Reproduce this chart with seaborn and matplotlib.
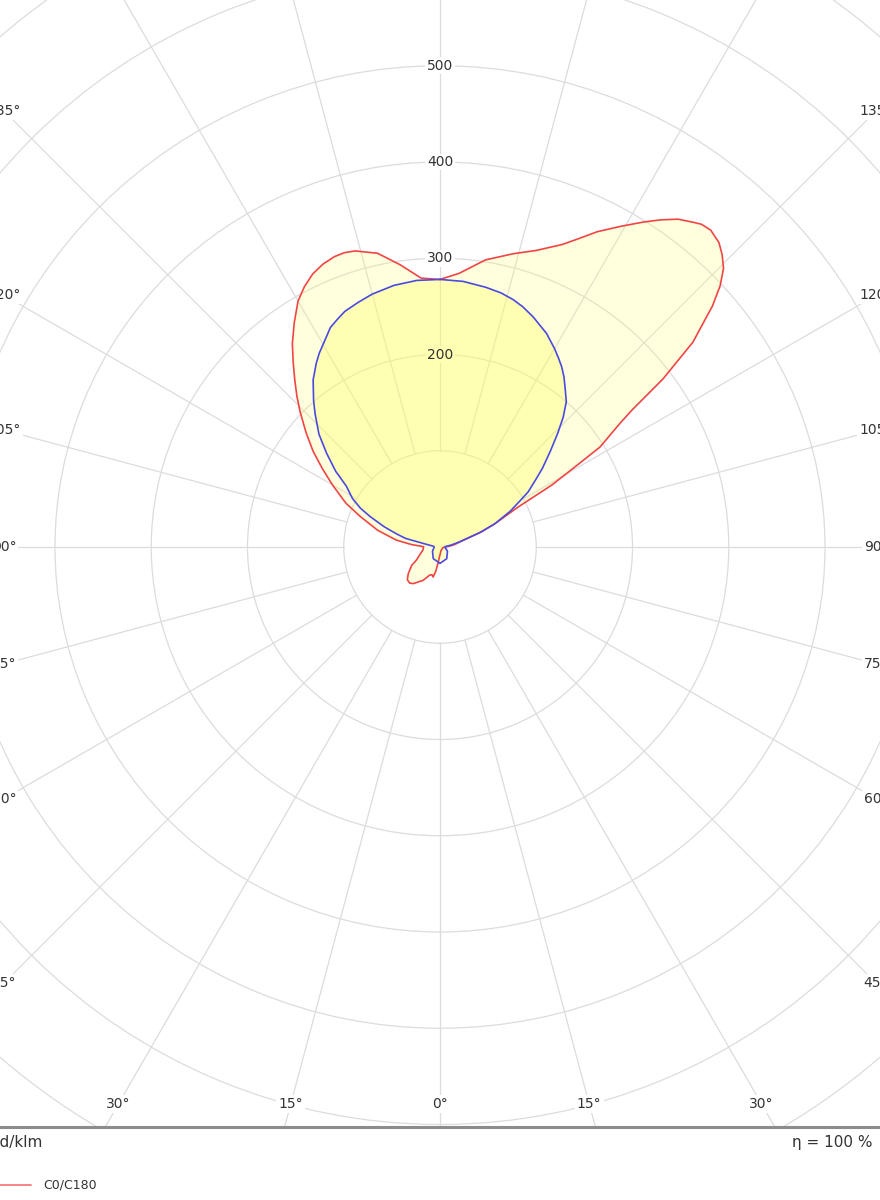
import numpy as np
import matplotlib
matplotlib.use("Agg")
import matplotlib.pyplot as plt
from matplotlib.lines import Line2D
from matplotlib.patches import Rectangle
import seaborn as sns

# Data: luminous intensity (cd/klm) against gamma angle (deg, 0 = down, +right)
RED_ANGLE = [-180, -176, -172, -168, -164, -162, -160, -157.5, -155, -152.5, -150, -147,
             -144, -141.5, -139, -136.5, -134, -130.5, -127, -123.5, -120, -115, -111,
             -105, -99, -95, -91, -80, -70, -61, -57, -50, -45, -40, -36, -31, -27,
             -20, -16, -13, -10, -7, -3, 0, 15, 45, 75, 90, 95, 100, 105, 110, 113,
             117, 119, 121, 122, 124.5, 125.5, 127, 129, 131.5, 133, 134.5, 136, 137.5,
             139.5, 141, 142, 144, 146, 148, 150.5, 153.5, 156, 158, 162, 166, 171,
             176, 180]
RED_CD = [278, 280, 296, 312, 320, 321.5, 321, 318, 313, 305, 295, 278,
          261, 245, 230, 216, 202, 183, 165, 146, 129, 108, 89,
          67, 46, 30, 17, 18, 22, 28, 35, 43, 48, 49, 47, 42, 39,
          31, 30, 32, 26, 17, 10, 8, 4, 3, 3, 5, 10, 16, 22, 45, 62,
          90, 133, 170, 196, 227, 245, 290, 338, 378, 398, 413, 422, 429,
          433, 431.5, 428, 421, 410, 398, 383, 366, 350, 339, 324, 314, 302,
          285, 278]

BLUE_ANGLE = [-180, -175, -170, -165, -161.5, -158, -156, -153.5, -150, -148, -146,
              -142.8, -139.2, -136.9, -133, -129.6, -126, -123, -119, -116, -113.5,
              -110, -107, -104, -101, -97, -90, -60, -30, 0, 30, 60, 90, 95, 100,
              105, 110, 113, 117, 120, 122, 125, 127.5, 131, 134, 136.5, 139, 142,
              144, 146, 148, 150, 153.5, 158, 161, 163.5, 166.5, 170, 175, 180]
BLUE_CD = [278, 278, 276, 272, 268, 264, 260, 255, 243, 237, 230,
           218, 201, 190, 172, 153, 134, 116, 104, 92, 79,
           62, 48, 37, 14, 7, 6, 9, 14, 17, 14, 9, 5, 6, 12,
           22, 45, 62, 82, 96, 108, 121, 134, 152, 170, 186, 200, 211,
           219, 226, 232, 238, 248, 258, 264, 268, 271.5, 274, 277, 278]

RINGS = [100, 200, 300, 400, 500, 600, 700]
RING_LABELS = [200, 300, 400, 500]
SPOKES = list(range(-165, 181, 15))
ANGLE_LABELS = [-135, -120, -105, -90, -75, -60, -45, -30, -15, 0,
                15, 30, 45, 60, 75, 90, 105, 120, 135]

# layout (pixels)
W, H = 880, 1200
CX, CY = 440, 547
PX = 0.9625          # pixels per cd/klm
RMAX = 770
LAB_HALF_W, LAB_BOTTOM = 436, 557
BASE_Y = 1127

GRID = "#dcdcdc"
RED = "#f04545"
BLUE = "#4a4ae0"
TXT = "#333333"

sns.set_theme(style="white")
plt.rcParams["font.family"] = ["DejaVu Sans"]

fig = plt.figure(figsize=(W / 100, H / 100), dpi=100)
rad = RMAX * PX
ax = fig.add_axes([(CX - rad) / W, (H - CY - rad) / H, 2 * rad / W, 2 * rad / H],
                  projection="polar")
ax.set_theta_zero_location("S")
ax.set_theta_direction(1)
ax.set_ylim(0, RMAX)
ax.set_facecolor("white")
ax.spines["polar"].set_visible(False)

# grid
ax.set_yticks(RINGS)
ax.set_yticklabels([])
ax.set_xticks([])
ax.yaxis.grid(True, color=GRID, lw=0.9)
ax.xaxis.grid(False)
for a in SPOKES:
    ax.plot([np.radians(a)] * 2, [100, RMAX], color=GRID, lw=0.9, zorder=0.8)

# curves
red_t = np.radians(RED_ANGLE)
blue_t = np.radians(BLUE_ANGLE)
ax.fill(red_t, RED_CD, color="#ffff66", alpha=0.22, lw=0, zorder=1)
ax.fill(blue_t, BLUE_CD, color="#ffff66", alpha=0.35, lw=0, zorder=1.1)
sns.lineplot(x=red_t, y=RED_CD, ax=ax, color=RED, lw=1.2, sort=False,
             estimator=None, zorder=3)
sns.lineplot(x=blue_t, y=BLUE_CD, ax=ax, color=BLUE, lw=1.2, sort=False,
             estimator=None, zorder=3.1)
ax.set_xlabel("")
ax.set_ylabel("")

# ring labels on the top axis
for r in RING_LABELS:
    bg = "#ffffb3" if r < 300 else "white"
    ax.text(np.pi, r, str(r), ha="center", va="center", fontsize=10, color=TXT,
            zorder=5, bbox=dict(facecolor=bg, edgecolor="none", pad=1))

# angle labels on the bounding box
for a in ANGLE_LABELS:
    s, c = np.sin(np.radians(a)), np.cos(np.radians(a))
    d = []
    if abs(s) > 1e-6:
        d.append(LAB_HALF_W / abs(s))
    if c > 1e-6:
        d.append(LAB_BOTTOM / c)
    ax.text(np.radians(a), min(d) / PX, f"{abs(a)}°", ha="center", va="center",
            fontsize=10, color=TXT, zorder=5, clip_on=False,
            bbox=dict(facecolor="white", edgecolor="none", pad=1.5))

# footer
fig.add_artist(Rectangle((0, 0), 1, (H - BASE_Y) / H, transform=fig.transFigure,
                         facecolor="white", edgecolor="none", zorder=10))
fig.add_artist(Line2D([0, 1], [(H - BASE_Y) / H] * 2, transform=fig.transFigure,
                      color="#8c8c8c", lw=2.2, zorder=11))
fig.text(-9 / W, (H - 1142) / H, "cd/klm", ha="left", va="center", fontsize=11,
         color=TXT, zorder=12)
fig.text(792 / W, (H - 1142) / H, "η = 100 %", ha="left", va="center", fontsize=11,
         color=TXT, zorder=12)
fig.add_artist(Line2D([0, 31 / W], [(H - 1185) / H] * 2, transform=fig.transFigure,
                      color=RED, lw=1.3, alpha=0.7, zorder=11))
fig.text(43 / W, (H - 1185) / H, "C0/C180", ha="left", va="center", fontsize=9,
         color=TXT, zorder=12)

fig.savefig("out.png", dpi=100, facecolor="white")
